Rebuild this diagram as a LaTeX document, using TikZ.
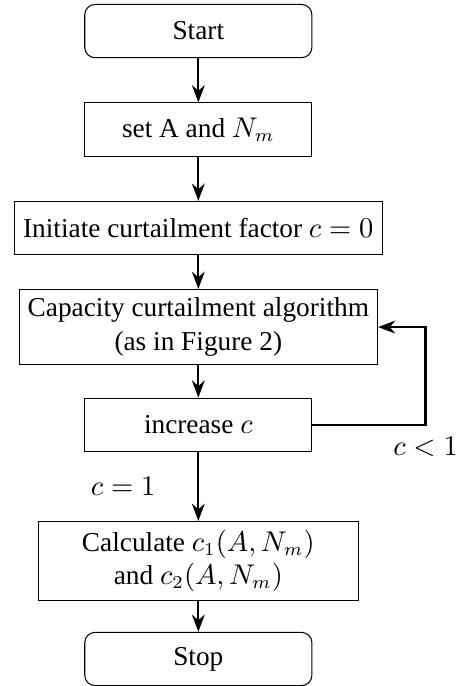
\documentclass[tikz,border=0pt]{standalone}
\usepackage{amsmath}
\usepackage{fontspec}
\setmainfont{Liberation Serif}
\usetikzlibrary{arrows.meta,positioning}

\tikzset{
    startstop/.style={draw, rounded corners, minimum width=3.07cm, minimum height=0.72cm, align=center},
    process/.style={draw, minimum width=3.07cm, minimum height=0.72cm, align=center},
    flow/.style={-{Stealth}, thick},
}

\begin{document}
\begin{tikzpicture}[font=\fontsize{10.5}{12.8}\selectfont]
    \useasboundingbox (0, 0) rectangle (6.22, 9.27);

    % Blocks
    \node[startstop] (start) at (2.68, 8.85) {Start};
    \node[process] (setA) at (2.68, 7.52) {set A and $N_m$};
    \node[process] (init) at (2.68, 6.19) {Initiate curtailment factor $c=0$};
    \node[process] (algo) at (2.68, 4.85) {Capacity curtailment algorithm\\(as in Figure 2)};
    \node[process] (incr) at (2.68, 3.53) {increase $c$};
    \node[process, minimum width=4.33cm] (calc) at (2.68, 1.69) {Calculate $c_1(A,N_m)$\\and $c_2(A,N_m)$};
    \node[startstop] (stop) at (2.68, 0.365) {Stop};
    \coordinate (loop) at (5.75, 3.53);

    % Arrows
    \draw[flow] (start) -- (setA);
    \draw[flow] (setA) -- (init);
    \draw[flow] (init) -- (algo);
    \draw[flow] (algo) -- (incr);
    \draw[flow] (incr) -- node[left=0.45cm] {$c=1$} (calc);
    \draw[flow] (calc) -- (stop);

    % Loop back
    \draw[flow] (incr.east) -- (loop) node[below=1pt] {$c<1$} |- (algo.east);
\end{tikzpicture}
\end{document}
